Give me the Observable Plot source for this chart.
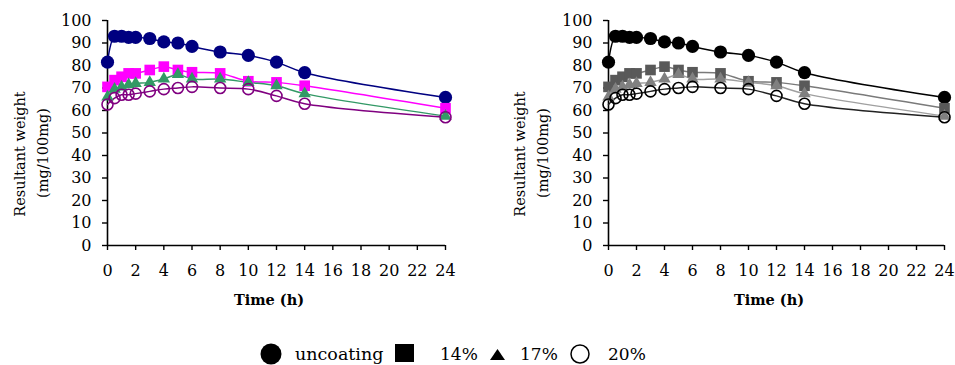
<!DOCTYPE html>
<html><head><meta charset="utf-8">
<script src="https://cdn.jsdelivr.net/npm/d3@7"></script>
<script src="https://cdn.jsdelivr.net/npm/@observablehq/plot@0.6"></script>
<style>
body{margin:0;background:#fff;}
#root{position:relative;width:955px;height:365px;overflow:hidden;font-family:"DejaVu Serif",serif;color:#000;background:#fff;}
.panel{position:absolute;top:0;}
.ytitle{position:absolute;white-space:nowrap;font-size:14.5px;transform:translate(-50%,-50%) rotate(-90deg);}
.xtitle{position:absolute;white-space:nowrap;font-size:14.5px;font-weight:bold;transform:translateX(-50%);}
#legend{position:absolute;left:0;top:320px;}
</style></head><body><div id="root"></div>
<script>
// ---- data ----
const times = [0, 0.5, 1, 1.5, 2, 3, 4, 5, 6, 8, 10, 12, 14, 24];
const seriesNames = ["uncoating", "14%", "17%", "20%"];
const uncoating = [81.5, 93, 93, 92.5, 92.5, 92, 90.5, 90, 88.5, 86, 84.5, 81.5, 76.8, 65.8];
const coat14 = [70.5, 73.5, 75, 76.5, 76.5, 78, 79.5, 78, 77, 76.5, 73, 72.5, 71, 61];
const coat17 = [66, 69.5, 70.5, 71.5, 72, 72.5, 74, 76, 74, 74, 72.5, 71, 67.5, 57.5];
const coat20 = [62.7, 65.5, 67, 67, 67.5, 68.5, 69.5, 70, 70.5, 70, 69.5, 66.5, 63, 57];
const xTicks = [0, 2, 4, 6, 8, 10, 12, 14, 16, 18, 20, 22, 24];
const yTicks = [0, 10, 20, 30, 40, 50, 60, 70, 80, 90, 100];
const xLabel = "Time (h)";
const yLabel1 = "Resultant weight";
const yLabel2 = "(mg/100mg)";

const seriesValues = [uncoating, coat14, coat17, coat20];
const rows = [];
seriesNames.forEach((s, i) => times.forEach((t, j) => rows.push({series: s, t, v: seriesValues[i][j]})));
const bySeries = s => rows.filter(d => d.series === s);

function panel(colors, lineColors, opts) {
  const marks = [
    Plot.axisX({ticks: xTicks, tickSize: 5, tickPadding: 14, label: null, strokeWidth: 1.4, fontSize: 16}),
    Plot.axisY({ticks: yTicks, tickSize: 5, tickPadding: 11, label: null, strokeWidth: 1.4, fontSize: 16}),
    Plot.ruleX([0], {stroke: "#000", strokeWidth: 1.6}),
    Plot.ruleY([0], {stroke: "#000", strokeWidth: 1.6}),
    Plot.line(rows, {x: "t", y: "v", z: "series", stroke: "series", strokeWidth: 1.5, curve: "catmull-rom"}),
    Plot.dot(bySeries("uncoating"), {x: "t", y: "v", r: 6.6, fill: colors[0], stroke: "none"}),
    Plot.dot(bySeries("14%"), {x: "t", y: "v", symbol: "square", r: 6, fill: colors[1], stroke: "none"}),
    Plot.dot(bySeries("17%"), {x: "t", y: "v", symbol: "triangle", r: 4.6, fill: colors[2], stroke: "none"}),
    Plot.dot(bySeries("20%"), {x: "t", y: "v", r: 5.5, fill: "none", stroke: colors[3], strokeWidth: 1.6})
  ];
  return Plot.plot({
    width: opts.width, height: 310,
    marginLeft: opts.ml, marginRight: opts.mr, marginTop: 20, marginBottom: 65,
    x: {domain: [0, 24]},
    y: {domain: [0, 100]},
    color: {domain: seriesNames, range: lineColors},
    style: {fontFamily: "DejaVu Serif", fontSize: "16px", color: "#000", background: "transparent", overflow: "visible"},
    marks
  });
}

const root = document.getElementById("root");
function addPanel(left, chart, titleX, xCenter) {
  const div = document.createElement("div");
  div.className = "panel"; div.style.left = left + "px";
  div.appendChild(chart); root.appendChild(div);
  const t1 = document.createElement("div"); t1.className = "ytitle"; t1.textContent = yLabel1;
  t1.style.left = (left + titleX) + "px"; t1.style.top = "154px"; root.appendChild(t1);
  const t2 = document.createElement("div"); t2.className = "ytitle"; t2.textContent = yLabel2;
  t2.style.left = (left + titleX + 23) + "px"; t2.style.top = "153px"; root.appendChild(t2);
  const xt = document.createElement("div"); xt.className = "xtitle"; xt.textContent = xLabel;
  xt.style.left = (left + xCenter) + "px"; xt.style.top = "291px"; root.appendChild(xt);
}

addPanel(0, panel(["#000080", "#ff00ff", "#339966", "#800080"], ["#000080", "#ff00ff", "#339966", "#800080"], {width: 475, ml: 107, mr: 30}), 20, 269);
addPanel(500, panel(["#000", "#595959", "#808080", "#000"], ["#000", "#7a7a7a", "#a0a0a0", "#222"], {width: 455, ml: 108, mr: 11}), 20, 269);

// legend
const ns = "http://www.w3.org/2000/svg";
const lg = document.createElementNS(ns, "svg");
lg.setAttribute("id", "legend"); lg.setAttribute("width", 955); lg.setAttribute("height", 45);
lg.innerHTML = `
<circle cx="271" cy="34" r="10.5" fill="#000"/>
<text x="295" y="40" font-family="DejaVu Serif" font-size="17.5">${seriesNames[0]}</text>
<rect x="395" y="24" width="19" height="18" fill="#000"/>
<text x="440" y="40" font-family="DejaVu Serif" font-size="17">${seriesNames[1]}</text>
<path d="M490,40 L505,40 L497.5,29 Z" fill="#000"/>
<text x="520" y="40" font-family="DejaVu Serif" font-size="17">${seriesNames[2]}</text>
<circle cx="580" cy="34" r="9" fill="none" stroke="#000" stroke-width="1.5"/>
<text x="608" y="40" font-family="DejaVu Serif" font-size="17">${seriesNames[3]}</text>`;
root.appendChild(lg);
</script></body></html>
